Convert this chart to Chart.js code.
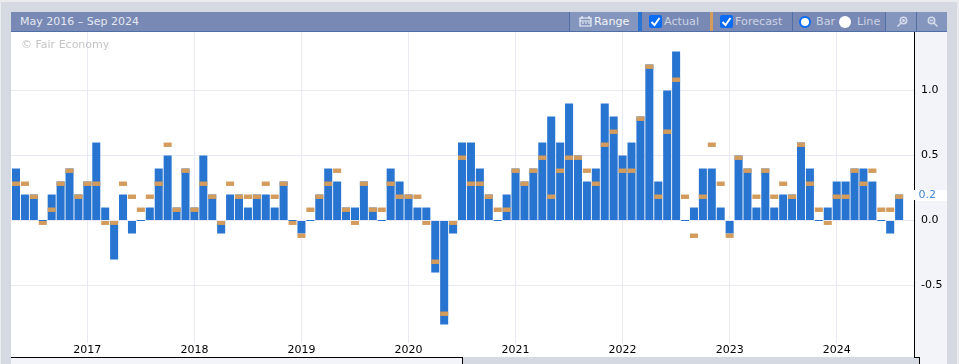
<!DOCTYPE html>
<html>
<head>
<meta charset="utf-8">
<script src="https://cdn.jsdelivr.net/npm/chart.js@4"></script>
<style>
html,body{margin:0;padding:0;background:#e9ebef;overflow:hidden}
#stage{position:relative;width:959px;height:364px;overflow:hidden;font-family:"DejaVu Sans",sans-serif;font-size:11px}
#stage div,#stage span,#stage svg{position:absolute}
.t{white-space:nowrap;line-height:14px;top:15px}
canvas{position:absolute;left:11px;top:32px}
</style>
</head>
<body>
<div id="stage">
  <div style="left:1px;top:2px;width:956px;height:362px;background:#d5d9e2"></div>
  <div style="left:11px;top:12px;width:936px;height:19px;background:#7789b4"></div>
  <div style="left:11px;top:31px;width:936px;height:1px;background:#4f6fa6"></div>
  <div style="left:11px;top:32px;width:904px;height:325px;background:#fff"></div>
  <div style="left:915px;top:32px;width:32px;height:332px;background:#f2f4f9"></div>
  <div style="left:11px;top:358px;width:451px;height:6px;background:#f2f4f9"></div>
  <div style="left:462px;top:357px;width:458px;height:7px;background:#d5d9e2"></div>
  <canvas id="c" width="936" height="325"></canvas>
  <div style="left:11px;top:357px;width:452px;height:1px;background:#000"></div>
  <div style="left:462px;top:357px;width:1px;height:7px;background:#000"></div>
  <div style="left:914px;top:357px;width:6px;height:1px;background:#000"></div>
  <div style="left:919px;top:357px;width:1px;height:7px;background:#000"></div>

  <span class="t" style="left:20px;color:#e4e8f1">May 2016 – Sep 2024</span>
  <span class="t" style="left:21px;top:38px;color:#c4c4c4">© Fair Economy</span>

  <div style="left:569px;top:12px;width:1px;height:19px;background:#4f6fa6"></div>
  <div style="left:570px;top:12px;width:68px;height:19px;background:#8496bd"></div>
  <svg style="left:579px;top:15px" width="13" height="13" viewBox="0 0 13 13"><path d="M1 3h11v8H1zM3 1v3M10 1v3M1 6h11M3 8h2M6 8h2M9 8h2" fill="none" stroke="#f0f2f8" stroke-width="1.2"/></svg>
  <span class="t" style="left:594px;color:#f2f4f9;font-size:11.2px">Range</span>
  <div style="left:638px;top:12px;width:4px;height:19px;background:#2874d1"></div>
  <div style="left:649px;top:15px;width:13px;height:13px;border-radius:2px;background:#0a6cf5"></div>
  <svg style="left:649px;top:15px" width="13" height="13" viewBox="0 0 13 13"><path d="M2.5 7l3 3 5-7" fill="none" stroke="#fff" stroke-width="2"/></svg>
  <span class="t" style="left:664px;color:#ccd3e4;font-size:11.2px">Actual</span>
  <div style="left:710px;top:12px;width:3px;height:19px;background:#d39b5c"></div>
  <div style="left:720px;top:15px;width:13px;height:13px;border-radius:2px;background:#0a6cf5"></div>
  <svg style="left:720px;top:15px" width="13" height="13" viewBox="0 0 13 13"><path d="M2.5 7l3 3 5-7" fill="none" stroke="#fff" stroke-width="2"/></svg>
  <span class="t" style="left:735px;color:#ccd3e4;font-size:11.2px">Forecast</span>
  <div style="left:792px;top:12px;width:1px;height:19px;background:#4f6fa6"></div>
  <div style="left:799px;top:16px;width:8px;height:8px;border:2px solid #0a6cf5;border-radius:50%;background:#fff"></div>
  <span class="t" style="left:816px;color:#ccd3e4;font-size:11.2px">Bar</span>
  <div style="left:839px;top:16px;width:12px;height:12px;border-radius:50%;background:#fff"></div>
  <span class="t" style="left:857px;color:#ccd3e4;font-size:11.2px">Line</span>
  <div style="left:885px;top:12px;width:1px;height:19px;background:#4f6fa6"></div>
  <div style="left:886px;top:12px;width:30px;height:19px;background:#8496bd"></div>
  <div style="left:916px;top:12px;width:1px;height:19px;background:#4f6fa6"></div>
  <div style="left:917px;top:12px;width:30px;height:19px;background:#8496bd"></div>
  <svg style="left:896px;top:16px" width="12" height="12" viewBox="0 0 12 12"><circle cx="7.5" cy="4.5" r="3.2" fill="none" stroke="#d3d9e8" stroke-width="1.6"/><path d="M5 7L1.5 10.5M6 4.5h3M7.5 3v3" stroke="#d3d9e8" stroke-width="1.6" fill="none"/></svg>
  <svg style="left:927px;top:16px" width="12" height="12" viewBox="0 0 12 12"><circle cx="4.5" cy="4.5" r="3.2" fill="none" stroke="#d3d9e8" stroke-width="1.6"/><path d="M7 7l3.5 3.5M3 4.5h3" stroke="#d3d9e8" stroke-width="1.6" fill="none"/></svg>
</div>
<script>
const months = ["May","Jun","Jul","Aug","Sep","Oct","Nov","Dec","Jan","Feb","Mar","Apr"];
const firstYear = 2016;
const yearLabels = [2017,2018,2019,2020,2021,2022,2023,2024];
const yTicks = [-0.5,0,0.5,1.0];
const actual = [
 0.4,0.2,0.2,0.0,0.2,0.3,0.4,0.2,0.3,0.6,0.1,-0.3,
 0.2,-0.1,0.0,0.1,0.4,0.5,0.1,0.4,0.1,0.5,0.2,-0.1,
 0.2,0.2,0.1,0.2,0.2,0.1,0.3,0.0,-0.1,0.0,0.2,0.4,
 0.3,0.1,0.1,0.3,0.1,0.0,0.4,0.3,0.2,0.1,0.1,-0.4,
 -0.8,-0.1,0.6,0.6,0.4,0.2,0.0,0.2,0.4,0.3,0.4,0.6,
 0.8,0.6,0.9,0.5,0.3,0.4,0.9,0.8,0.5,0.6,0.8,1.2,
 0.3,1.0,1.3,0.0,0.1,0.4,0.4,0.1,-0.1,0.5,0.4,0.1,
 0.4,0.1,0.2,0.2,0.6,0.4,0.0,0.1,0.3,0.3,0.4,0.4,
 0.3,0.0,-0.1,0.2
];
const forecast = [
 0.3,0.3,0.2,0.0,0.1,0.3,0.4,0.2,0.3,0.3,0.0,0.0,
 0.3,0.2,0.1,0.2,0.3,0.6,0.1,0.4,0.1,0.3,0.2,0.0,
 0.3,0.2,0.2,0.2,0.3,0.2,0.3,0.0,-0.1,0.1,0.2,0.3,
 0.4,0.1,0.0,0.3,0.1,0.1,0.3,0.2,0.2,0.2,0.0,-0.3,
 -0.7,0.0,0.5,0.3,0.3,0.2,0.1,0.1,0.4,0.3,0.4,0.5,
 0.2,0.4,0.5,0.5,0.4,0.3,0.6,0.7,0.4,0.4,0.8,1.2,
 0.2,0.7,1.1,0.2,-0.1,0.2,0.6,0.3,-0.1,0.5,0.4,0.2,
 0.4,0.2,0.3,0.2,0.6,0.3,0.1,0.0,0.2,0.2,0.4,0.3,
 0.4,0.1,0.1,0.2
];
const latestValue = 0.2;
const markerThickness = 0.034;
const indexOfYear = y => (y - firstYear) * 12 - 4;
const font = {family:'"DejaVu Sans", sans-serif', size:11};

const axisChrome = {
  id:'axisChrome',
  afterDraw(chart){
    const c = chart.ctx, ys = chart.scales.y, a = chart.chartArea;
    const py = Math.round(ys.getPixelForValue(latestValue));
    c.save();
    c.fillStyle = '#000';
    c.fillRect(a.right-1, 0, 1, py-5);
    c.fillRect(a.right-1, py+5, 1, chart.height);
    c.fillStyle = '#fff';
    c.fillRect(a.right, py-5, 32, 11);
    c.fillStyle = '#3f86d8';
    c.font = '11px "DejaVu Sans", sans-serif';
    c.textBaseline = 'middle';
    c.fillText(latestValue.toFixed(1), a.right+3.5, py+0.5);
    c.restore();
  }
};

new Chart(document.getElementById('c'), {
  type:'bar',
  data:{
    datasets:[
      {label:'Forecast', order:1, grouped:false,
       data:forecast.map((v,i)=>({x:i,y:[v-markerThickness,v]})),
       backgroundColor:'#d39b5c', barPercentage:0.9, categoryPercentage:1},
      {label:'Actual', order:2, grouped:false, minBarLength:1,
       data:actual.map((v,i)=>({x:i,y:v})),
       backgroundColor:'#2874d1', barPercentage:0.9, categoryPercentage:1}
    ]
  },
  options:{
    responsive:false, animation:false,
    layout:{padding:0},
    plugins:{legend:{display:false},tooltip:{enabled:false}},
    scales:{
      x:{type:'linear', offset:false, min:-0.56, max:100.78,
         afterBuildTicks(s){ s.ticks = yearLabels.map(y=>({value:indexOfYear(y)})); },
         afterFit(s){ s.height = 14; s.paddingLeft = 0; s.paddingRight = 0; },
         afterTickToLabelConversion(s){ s.ticks.forEach((t,i)=>{ t.label = String(yearLabels[i]); }); },
         border:{display:false},
         grid:{offset:false, color:'#e8e9f3', drawTicks:false, lineWidth:1},
         ticks:{color:'#000', font, padding:1, maxRotation:0, autoSkip:false}},
      y:{position:'right', min:-0.942, max:1.45,
         afterBuildTicks(s){ s.ticks = yTicks.map(v=>({value:v})); },
         afterFit(s){ s.width = 32; s.paddingTop = 0; s.paddingBottom = 0; },
         border:{display:false},
         grid:{color:'#e8e9f3', drawTicks:false, lineWidth:1},
         ticks:{color:'#000', font, padding:6, callback:v=>v.toFixed(1)}}
    }
  },
  plugins:[axisChrome]
});
</script>
</body>
</html>
